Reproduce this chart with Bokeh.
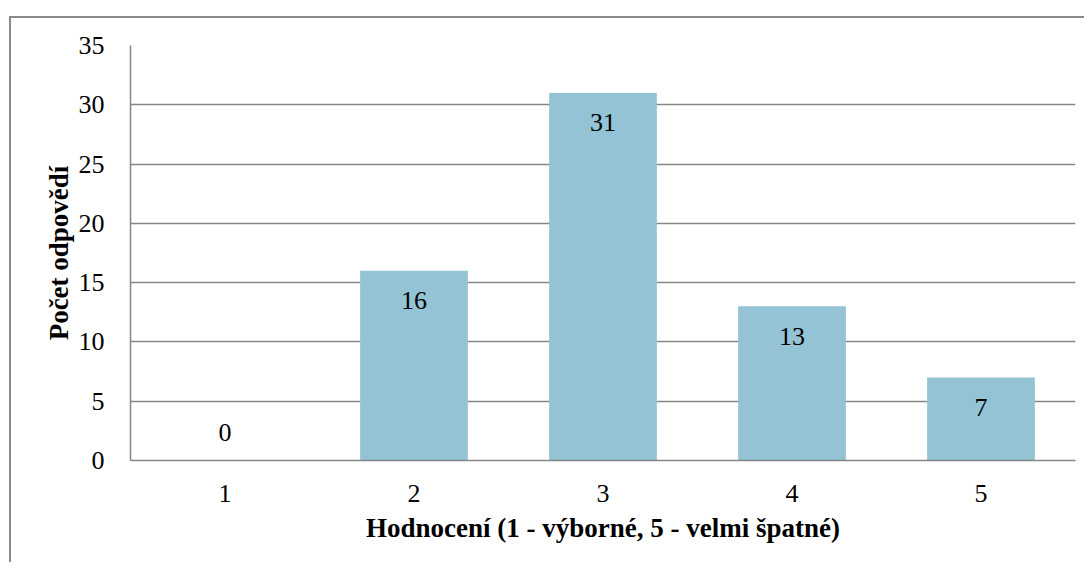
from bokeh.plotting import figure
from bokeh.models import ColumnDataSource, FactorRange, LabelSet
from bokeh.core.properties import value
from bokeh.embed import file_html
from bokeh.resources import INLINE

categories = ["1", "2", "3", "4", "5"]
counts = [0, 16, 31, 13, 7]
label_offsets = [28 if v == 0 else -30 for v in counts]

src = ColumnDataSource(dict(cat=categories, val=counts,
                            lab=[str(v) for v in counts], off=label_offsets))

SERIF = "'Liberation Serif', 'Times New Roman', serif"

p = figure(x_range=FactorRange(*categories), y_range=(0, 35),
           width=1075, height=546, output_backend="svg", toolbar_location=None,
           min_border_left=119, min_border_right=11, min_border_top=27, min_border_bottom=104)
p.styles = {"border-left": "2px solid #8a8a8a", "border-top": "2px solid #8a8a8a",
            "margin-left": "9px", "margin-top": "16px"}

p.vbar(x="cat", top="val", width=0.57, source=src, color="#93C3D5", line_color=None)

labels = LabelSet(x="cat", y="val", text="lab", y_offset="off", source=src,
                  text_align="center", text_baseline="middle",
                  text_font=value(SERIF), text_font_size=value("26px"),
                  text_color=value("#000000"))
p.add_layout(labels)

p.outline_line_color = None
p.xgrid.grid_line_color = None
p.ygrid.grid_line_color = "#868686"
p.ygrid.grid_line_width = 1.5

p.yaxis.ticker = [0, 5, 10, 15, 20, 25, 30, 35]
for ax in (p.xaxis, p.yaxis):
    ax.axis_line_color = "#868686"
    ax.axis_line_width = 1.5
    ax.major_tick_line_color = None
    ax.minor_tick_line_color = None
    ax.major_label_text_font = SERIF
    ax.major_label_text_font_size = "26px"
    ax.major_label_text_color = "#000000"
    ax.axis_label_text_font = SERIF
    ax.axis_label_text_font_size = "27px"
    ax.axis_label_text_font_style = "bold"
    ax.axis_label_text_color = "#000000"

p.yaxis.major_label_standoff = 20
p.xaxis.major_label_standoff = 18
p.yaxis.axis_label = "Počet odpovědí"
p.xaxis.axis_label = "Hodnocení (1 - výborné, 5 - velmi špatné)"
p.yaxis.axis_label_standoff = 2
p.xaxis.axis_label_standoff = 8

open("out.html", "w").write(file_html(p, INLINE))
